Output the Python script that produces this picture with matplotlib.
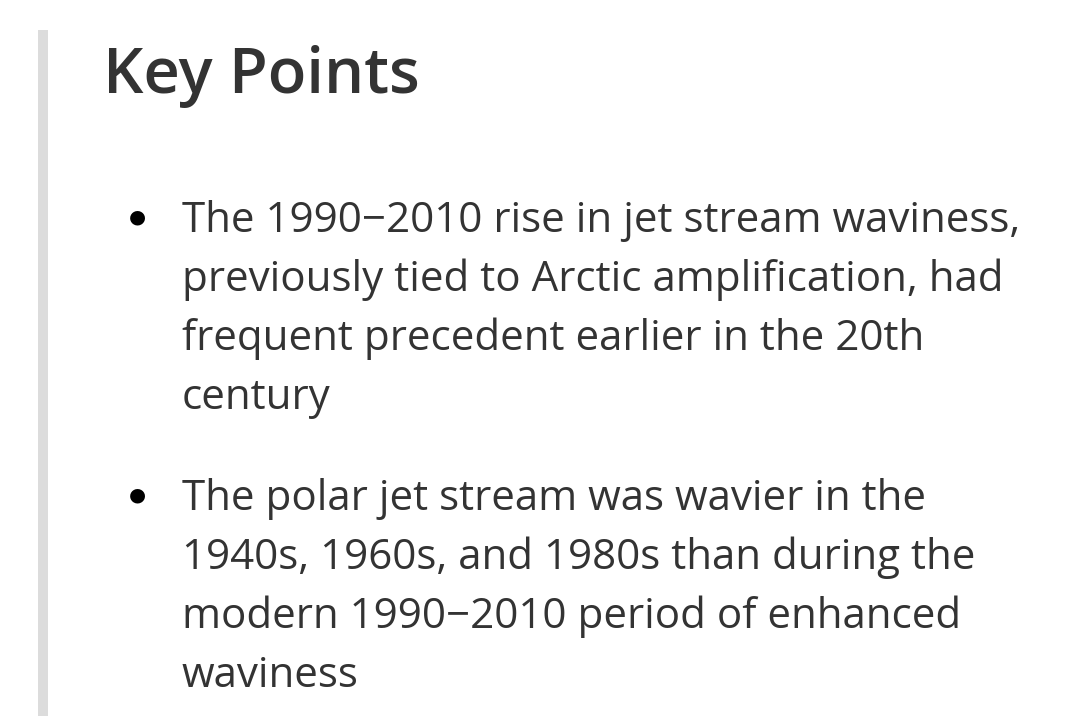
import matplotlib
matplotlib.use("Agg")
import matplotlib.pyplot as plt
from matplotlib.patches import Rectangle

title = "Key Points"
bullets = [
    ["The 1990\u22122010 rise in jet stream waviness,",
     "previously tied to Arctic amplification, had",
     "frequent precedent earlier in the 20th",
     "century"],
    ["The polar jet stream was wavier in the",
     "1940s, 1960s, and 1980s than during the",
     "modern 1990\u22122010 period of enhanced",
     "waviness"],
]

W, H = 1079, 716
fig = plt.figure(figsize=(W/100, H/100), dpi=100)
fig.patch.set_facecolor("white")
def fx(x): return x / W
def fy(y): return 1 - y / H

fig.patches.append(Rectangle((fx(38), 0), 10/W, fy(30), transform=fig.transFigure,
                             facecolor="#dcdcdc", edgecolor="none"))
col = "#333333"
fig.text(fx(103), fy(93), title, fontsize=45.5, fontweight="semibold", family="Open Sans",
         color=col, va="baseline", ha="left")
starts = [232, 510]
for b, y0 in zip(bullets, starts):
    fig.text(fx(137), fy(y0 - 15), "\u25CF", fontsize=14, color="black",
             va="center", ha="center", family="DejaVu Sans")
    for i, line in enumerate(b):
        fig.text(fx(182), fy(y0 + 59 * i), line, fontsize=30.3, family="Open Sans",
                 color=col, va="baseline", ha="left")
fig.savefig("out.png", dpi=100)
